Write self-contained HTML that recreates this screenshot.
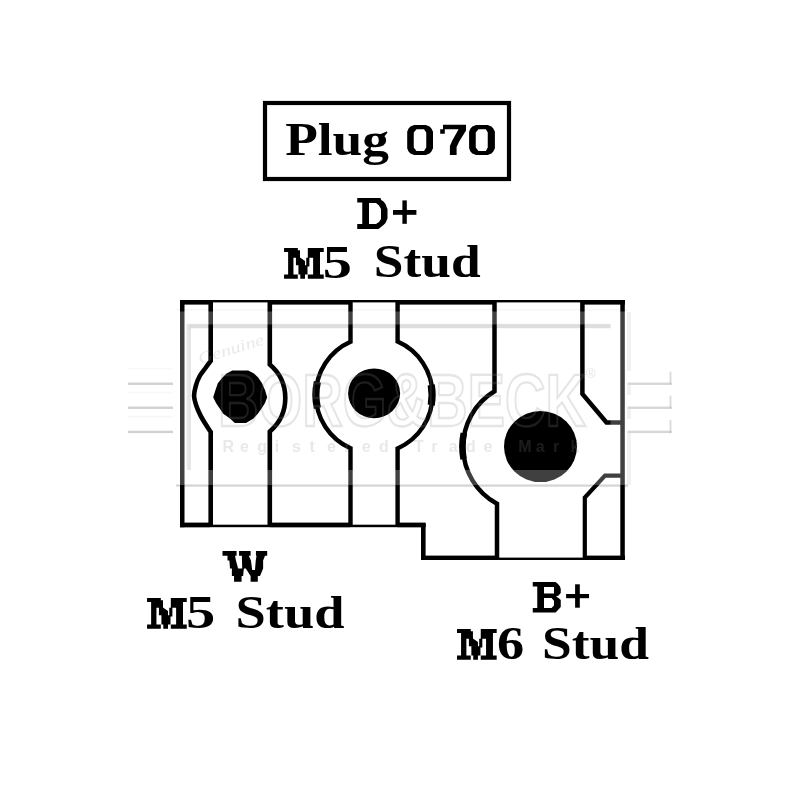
<!DOCTYPE html>
<html><head><meta charset="utf-8"><title>Plug 070</title>
<style>html,body{margin:0;padding:0;background:#fff;width:800px;height:800px;overflow:hidden}
svg{display:block;will-change:transform}
.lb{font-family:"Liberation Serif",serif;font-weight:bold;stroke:none}</style></head>
<body>
<svg width="800" height="800" viewBox="0 0 800 800"><rect width="800" height="800" fill="#fff"/><rect x="186.6" y="323.8" width="424" height="4.4" fill="#9a9a9a" fill-opacity="0.34"/>
<rect x="176" y="484.3" width="452" height="2.4" fill="#9a9a9a" fill-opacity="0.42"/>
<rect x="186.6" y="328" width="4.2" height="142" fill="#9a9a9a" fill-opacity="0.3"/>
<rect x="176" y="309" width="452" height="1.5" fill="#9a9a9a" fill-opacity="0.08"/><g fill="#000"><rect x="265" y="103" width="244" height="76" fill="none" stroke="#000" stroke-width="4.2"/>
<rect x="180.00" y="300.00" width="445.00" height="2.40" fill="#000"/>
<rect x="180.00" y="300.00" width="30.00" height="4.60" fill="#000"/>
<rect x="270.00" y="300.00" width="80.00" height="4.60" fill="#000"/>
<rect x="397.50" y="300.00" width="97.00" height="4.60" fill="#000"/>
<rect x="582.50" y="300.00" width="42.50" height="4.60" fill="#000"/>
<rect x="180.00" y="300.00" width="4.50" height="227.20" fill="#000"/>
<rect x="180.00" y="524.70" width="245.50" height="2.50" fill="#000"/>
<rect x="180.00" y="522.60" width="30.00" height="4.60" fill="#000"/>
<rect x="270.00" y="522.60" width="80.00" height="4.60" fill="#000"/>
<rect x="397.50" y="522.60" width="28.00" height="4.60" fill="#000"/>
<rect x="421.00" y="523.00" width="4.60" height="37.00" fill="#000"/>
<rect x="421.00" y="557.60" width="204.00" height="2.40" fill="#000"/>
<rect x="421.00" y="555.60" width="76.00" height="4.40" fill="#000"/>
<rect x="584.80" y="555.60" width="40.20" height="4.40" fill="#000"/>
<rect x="620.30" y="300.00" width="4.50" height="260.00" fill="#000"/>
<path d="M210.7 300 L210.70 361.00 C209.87 362.12 207.55 365.21 205.70 367.75 C203.85 370.29 201.25 373.24 199.60 376.25 C197.95 379.26 196.72 382.51 195.80 385.80 C194.88 389.09 194.00 392.63 194.10 396.00 C194.20 399.37 195.32 402.73 196.40 406.00 C197.48 409.27 199.08 412.60 200.60 415.60 C202.12 418.60 203.82 421.27 205.50 424.00 C207.18 426.73 209.83 430.67 210.70 432.00 L210.7 527" fill="none" stroke="#000" stroke-width="4.6"/>
<path d="M269.80 300.00 L269.80 364.55 A43.85 43.85 0 0 1 269.80 431.45 L269.80 527.00" fill="none" stroke="#000" stroke-width="4.6" stroke-linejoin="miter"/>
<path d="M350.50 300.00 L350.50 341.73 A58.30 58.30 0 0 0 350.50 448.27 L350.50 527.00" fill="none" stroke="#000" stroke-width="4.4" stroke-linejoin="miter"/>
<path d="M397.60 300.00 L397.60 341.60 A58.30 58.30 0 0 1 397.60 448.40 L397.60 527.00" fill="none" stroke="#000" stroke-width="4.4" stroke-linejoin="miter"/>
<path d="M494.5 300 L494.5 391.3 A64.8 64.8 0 0 0 497 503.8 L497 558" fill="none" stroke="#000" stroke-width="4.5"/>
<path d="M317.39 408.11 A58.30 58.30 0 0 1 317.39 381.89" fill="none" stroke="#000" stroke-width="7.2"/>
<path d="M431.22 384.95 A57.90 57.90 0 0 1 431.22 405.05" fill="none" stroke="#000" stroke-width="7.2"/>
<path d="M463.59 459.03 A64.60 64.60 0 0 1 463.81 433.27" fill="none" stroke="#000" stroke-width="6.6"/>
<path d="M582.40 302.00 L582.40 394.00 L606.50 422.50 L621.00 422.50" fill="none" stroke="#000" stroke-width="4.5" stroke-linejoin="miter" stroke-linecap="butt"/>
<path d="M621.00 475.60 L605.00 475.60 L584.80 497.50 L584.80 558.00" fill="none" stroke="#000" stroke-width="4.2" stroke-linejoin="miter" stroke-linecap="butt"/>
<path d="M414.25 125.00 L425.75 125.00 L429.60 126.60 L431.60 128.80 L433.00 131.75 L433.00 148.25 L431.60 151.20 L429.60 153.40 L425.75 155.00 L414.25 155.00 L410.40 153.40 L408.40 151.20 L407.20 148.25 L407.20 131.75 L408.40 128.80 L410.40 126.60 Z M416.50 129.20 L424.00 129.20 L426.25 132.60 L426.25 147.40 L424.00 151.00 L416.50 151.00 L413.75 147.40 L413.75 132.60 Z" fill="#000" fill-rule="evenodd"/>
<path d="M476.15 125.00 L487.65 125.00 L491.50 126.60 L493.50 128.80 L494.90 131.75 L494.90 148.25 L493.50 151.20 L491.50 153.40 L487.65 155.00 L476.15 155.00 L472.30 153.40 L470.30 151.20 L469.10 148.25 L469.10 131.75 L470.30 128.80 L472.30 126.60 Z M478.40 129.20 L485.90 129.20 L487.75 132.60 L487.75 147.40 L485.90 151.00 L478.40 151.00 L475.75 147.40 L475.75 132.60 Z" fill="#000" fill-rule="evenodd"/>
<polygon points="443.00,124.75 466.00,124.75 466.00,130.50 459.20,141.50 456.60,147.00 456.60,155.00 449.90,155.00 449.90,146.00 452.30,140.50 458.60,129.20 444.80,129.20 444.80,133.80 440.20,133.80 440.20,129.20 443.00,129.20" fill="#000"/>
<polygon points="222.50,551.12 236.56,551.12 236.56,555.81 235.00,555.81 235.94,560.50 238.12,568.62 242.19,568.62 241.88,555.81 239.06,555.81 239.06,551.12 250.62,551.12 250.62,555.81 248.75,555.81 250.94,560.50 252.19,569.88 255.00,569.88 255.75,560.50 256.56,555.81 255.94,555.81 255.94,551.12 267.19,551.12 267.19,555.81 265.00,555.81 263.12,560.50 263.12,568.62 260.00,576.12 257.81,576.12 257.81,581.75 250.62,581.75 250.62,576.12 246.25,569.25 245.00,568.00 243.75,569.25 243.12,576.12 241.56,576.12 241.56,581.75 234.06,581.75 234.06,576.12 231.88,576.12 231.88,568.62 230.00,568.62 229.38,560.50 227.50,560.50 227.50,555.81 222.50,555.81" fill="#000"/>
<path d="M284.06 248.06 L323.75 248.06 L323.75 278.69 L284.06 278.69 ZM297.81 248.06 L307.81 248.06 L307.81 257.75 L306.25 257.75 L306.25 265.25 L305.00 265.25 L305.00 260.88 L300.00 257.44 L300.00 250.25 L297.81 250.25 ZM284.06 252.12 L288.12 252.12 L288.12 274.62 L284.06 274.62 ZM293.44 257.75 L295.94 257.75 L295.94 265.25 L298.44 265.25 L298.44 274.62 L293.44 274.62 ZM309.38 257.75 L313.12 257.75 L313.12 274.62 L307.50 274.62 L307.50 266.50 L309.38 266.50 ZM320.00 252.12 L323.75 252.12 L323.75 274.62 L320.00 274.62 ZM297.81 274.62 L300.31 274.62 L300.31 278.69 L297.81 278.69 ZM305.00 274.62 L307.81 274.62 L307.81 278.69 L305.00 278.69 Z" fill="#000" fill-rule="evenodd"/>
<path d="M147.06 598.06 L186.75 598.06 L186.75 628.69 L147.06 628.69 ZM160.81 598.06 L170.81 598.06 L170.81 607.75 L169.25 607.75 L169.25 615.25 L168.00 615.25 L168.00 610.88 L163.00 607.44 L163.00 600.25 L160.81 600.25 ZM147.06 602.12 L151.12 602.12 L151.12 624.62 L147.06 624.62 ZM156.44 607.75 L158.94 607.75 L158.94 615.25 L161.44 615.25 L161.44 624.62 L156.44 624.62 ZM172.38 607.75 L176.12 607.75 L176.12 624.62 L170.50 624.62 L170.50 616.50 L172.38 616.50 ZM183.00 602.12 L186.75 602.12 L186.75 624.62 L183.00 624.62 ZM160.81 624.62 L163.31 624.62 L163.31 628.69 L160.81 628.69 ZM168.00 624.62 L170.81 624.62 L170.81 628.69 L168.00 628.69 Z" fill="#000" fill-rule="evenodd"/>
<path d="M457.00 629.06 L496.69 629.06 L496.69 659.69 L457.00 659.69 ZM470.75 629.06 L480.75 629.06 L480.75 638.75 L479.19 638.75 L479.19 646.25 L477.94 646.25 L477.94 641.88 L472.94 638.44 L472.94 631.25 L470.75 631.25 ZM457.00 633.12 L461.06 633.12 L461.06 655.62 L457.00 655.62 ZM466.38 638.75 L468.88 638.75 L468.88 646.25 L471.38 646.25 L471.38 655.62 L466.38 655.62 ZM482.31 638.75 L486.06 638.75 L486.06 655.62 L480.44 655.62 L480.44 647.50 L482.31 647.50 ZM492.94 633.12 L496.69 633.12 L496.69 655.62 L492.94 655.62 ZM470.75 655.62 L473.25 655.62 L473.25 659.69 L470.75 659.69 ZM477.94 655.62 L480.75 655.62 L480.75 659.69 L477.94 659.69 Z" fill="#000" fill-rule="evenodd"/>
<path d="M357.25 198.00 L380.50 198.00 L381.25 200.00 L383.50 201.50 L385.50 204.00 L387.00 208.00 L387.50 209.00 L387.50 218.50 L385.50 223.00 L383.50 225.00 L381.00 227.00 L378.50 229.00 L357.25 229.00 L357.25 224.00 L362.25 224.00 L362.25 202.50 L357.25 202.50 ZM369.00 203.00 L376.00 203.00 L379.00 205.50 L381.00 209.00 L381.00 219.00 L379.00 222.00 L376.00 224.00 L369.00 224.00 Z" fill="#000" fill-rule="evenodd"/>
<path d="M532.75 582.00 L555.50 582.00 L558.00 584.00 L560.00 586.50 L560.75 589.00 L560.75 593.00 L558.50 595.50 L556.00 596.50 L558.50 598.00 L560.75 600.00 L560.75 607.00 L558.50 609.50 L555.50 612.50 L532.75 612.50 L532.75 608.00 L537.25 608.00 L537.25 586.50 L532.75 586.50 ZM544.00 587.00 L554.00 587.00 L554.00 593.50 L544.00 593.50 ZM544.00 598.00 L551.50 598.00 L554.00 600.75 L554.00 605.50 L551.50 608.00 L544.00 608.00 Z" fill="#000" fill-rule="evenodd"/>
<rect x="402.40" y="200.40" width="4.40" height="23.40" fill="#000"/>
<rect x="393.00" y="210.00" width="23.40" height="4.80" fill="#000"/>
<rect x="575.10" y="584.30" width="4.70" height="23.40" fill="#000"/>
<rect x="566.10" y="594.00" width="22.95" height="4.20" fill="#000"/>
<polygon points="232.4,370.6 248.2,370.6 254.0,373.5 258.2,377.5 262.0,383.2 265.0,390.0 267.2,397.2 265.0,403.0 261.9,408.0 257.8,413.7 253.5,418.6 246.0,423.0 234.8,423.0 230.0,418.6 223.2,413.7 219.4,408.0 216.0,403.0 213.2,397.2 215.5,390.0 217.8,383.2 222.5,377.5 226.5,373.5" fill="#000"/>
<ellipse cx="374.1" cy="393.3" rx="26" ry="24.9" fill="#000"/>
<ellipse cx="540.5" cy="446.6" rx="36.5" ry="35.5" fill="#000"/>
<text class="lb" x="285.20" y="154.80" textLength="103.80" lengthAdjust="spacingAndGlyphs" font-size="46.00">Plug</text>
<text class="lb" x="322.80" y="277.70" textLength="29.20" lengthAdjust="spacingAndGlyphs" font-size="46.00">5</text>
<text class="lb" x="373.75" y="277.40" textLength="106.85" lengthAdjust="spacingAndGlyphs" font-size="46.00">Stud</text>
<text class="lb" x="186.05" y="628.10" textLength="29.25" lengthAdjust="spacingAndGlyphs" font-size="46.00">5</text>
<text class="lb" x="235.50" y="628.20" textLength="109.00" lengthAdjust="spacingAndGlyphs" font-size="46.00">Stud</text>
<text class="lb" x="497.05" y="658.70" textLength="27.15" lengthAdjust="spacingAndGlyphs" font-size="46.00">6</text>
<text class="lb" x="542.00" y="658.70" textLength="107.00" lengthAdjust="spacingAndGlyphs" font-size="46.00">Stud</text></g><path d="M176 311.5 H628 V485 H176 Z M189 324.5 V470 H610.5 V324.5 Z" fill="#fff" fill-opacity="0.25" fill-rule="evenodd"/>
<rect x="627" y="312" width="4" height="59" fill="#9a9a9a" fill-opacity="0.14"/>
<rect x="627" y="385" width="4" height="10" fill="#9a9a9a" fill-opacity="0.14"/>
<rect x="627" y="409" width="4" height="10" fill="#9a9a9a" fill-opacity="0.14"/>
<rect x="627" y="433" width="4" height="52" fill="#9a9a9a" fill-opacity="0.14"/>
<rect x="128" y="382.55" width="45" height="2.4" fill="#9a9a9a" fill-opacity="0.45"/>
<rect x="627.5" y="382.55" width="44" height="2.4" fill="#9a9a9a" fill-opacity="0.4"/>
<rect x="669.5" y="371.75" width="2" height="13" fill="#9a9a9a" fill-opacity="0.35"/>
<rect x="128" y="367.75" width="45" height="1.5" fill="#9a9a9a" fill-opacity="0.08"/>
<rect x="128" y="406.55" width="45" height="2.4" fill="#9a9a9a" fill-opacity="0.45"/>
<rect x="627.5" y="406.55" width="44" height="2.4" fill="#9a9a9a" fill-opacity="0.4"/>
<rect x="669.5" y="395.75" width="2" height="13" fill="#9a9a9a" fill-opacity="0.35"/>
<rect x="128" y="391.75" width="45" height="1.5" fill="#9a9a9a" fill-opacity="0.08"/>
<rect x="128" y="430.70" width="45" height="2.4" fill="#9a9a9a" fill-opacity="0.45"/>
<rect x="627.5" y="430.70" width="44" height="2.4" fill="#9a9a9a" fill-opacity="0.4"/>
<rect x="669.5" y="419.90" width="2" height="13" fill="#9a9a9a" fill-opacity="0.35"/>
<rect x="128" y="415.90" width="45" height="1.5" fill="#9a9a9a" fill-opacity="0.08"/>
<text x="218" y="426" textLength="368" lengthAdjust="spacingAndGlyphs" font-size="74" style="font-family:'Liberation Sans',sans-serif;font-weight:bold" fill="none" stroke="#8a8a8a" stroke-opacity="0.22" stroke-width="2.4" stroke-linejoin="miter">BORG&amp;BECK</text>
<text x="222.5 239.9 257.3 274.7 292.1 309.5 326.9 344.3 361.7 379.1 413.9 431.3 448.7 466.1 483.5 518.3 535.7 553.1 570.5" y="451.5" font-size="16" style="font-family:'Liberation Sans',sans-serif;font-weight:bold" fill="#8a8a8a" fill-opacity="0.2">RegisteredTradeMark</text>
<text x="586" y="378" font-size="13" style="font-family:'Liberation Sans',sans-serif" fill="#8a8a8a" fill-opacity="0.25">&#174;</text>
<text x="0" y="0" transform="translate(200 364) rotate(-17)" textLength="68" lengthAdjust="spacingAndGlyphs" font-size="16" style="font-family:'Liberation Serif',serif;font-style:italic" fill="#8a8a8a" fill-opacity="0.2">Genuine</text></svg>
</body></html>
